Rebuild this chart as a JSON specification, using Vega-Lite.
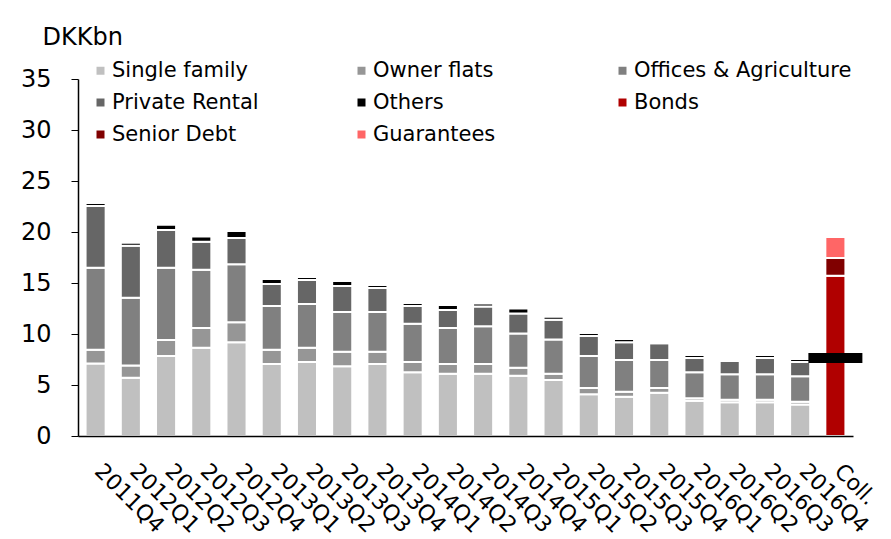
{
  "$schema": "https://vega.github.io/schema/vega-lite/v6.json",
  "width": 775,
  "height": 357,
  "autosize": {"type": "none"},
  "padding": {"left": 78, "top": 79, "right": 38, "bottom": 103},
  "background": "white",
  "config": {
    "font": "DejaVu Sans",
    "view": {"stroke": null},
    "axis": {"labelColor": "black", "titleColor": "black", "domainColor": "black", "tickColor": "black", "grid": false}
  },
  "layer": [
    {
      "data": {
        "values": [
          {"quarter": "2011Q4", "category": "Single family", "value": 7.1},
          {"quarter": "2011Q4", "category": "Owner flats", "value": 1.35},
          {"quarter": "2011Q4", "category": "Offices & Agriculture", "value": 8.05},
          {"quarter": "2011Q4", "category": "Private Rental", "value": 6.05},
          {"quarter": "2011Q4", "category": "Others", "value": 0.3},
          {"quarter": "2012Q1", "category": "Single family", "value": 5.7},
          {"quarter": "2012Q1", "category": "Owner flats", "value": 1.2},
          {"quarter": "2012Q1", "category": "Offices & Agriculture", "value": 6.65},
          {"quarter": "2012Q1", "category": "Private Rental", "value": 5.1},
          {"quarter": "2012Q1", "category": "Others", "value": 0.3},
          {"quarter": "2012Q2", "category": "Single family", "value": 7.85},
          {"quarter": "2012Q2", "category": "Owner flats", "value": 1.55},
          {"quarter": "2012Q2", "category": "Offices & Agriculture", "value": 7.1},
          {"quarter": "2012Q2", "category": "Private Rental", "value": 3.7},
          {"quarter": "2012Q2", "category": "Others", "value": 0.5},
          {"quarter": "2012Q3", "category": "Single family", "value": 8.65},
          {"quarter": "2012Q3", "category": "Owner flats", "value": 1.95},
          {"quarter": "2012Q3", "category": "Offices & Agriculture", "value": 5.7},
          {"quarter": "2012Q3", "category": "Private Rental", "value": 2.75},
          {"quarter": "2012Q3", "category": "Others", "value": 0.5},
          {"quarter": "2012Q4", "category": "Single family", "value": 9.2},
          {"quarter": "2012Q4", "category": "Owner flats", "value": 1.95},
          {"quarter": "2012Q4", "category": "Offices & Agriculture", "value": 5.7},
          {"quarter": "2012Q4", "category": "Private Rental", "value": 2.55},
          {"quarter": "2012Q4", "category": "Others", "value": 0.7},
          {"quarter": "2013Q1", "category": "Single family", "value": 7.05},
          {"quarter": "2013Q1", "category": "Owner flats", "value": 1.4},
          {"quarter": "2013Q1", "category": "Offices & Agriculture", "value": 4.3},
          {"quarter": "2013Q1", "category": "Private Rental", "value": 2.15},
          {"quarter": "2013Q1", "category": "Others", "value": 0.5},
          {"quarter": "2013Q2", "category": "Single family", "value": 7.25},
          {"quarter": "2013Q2", "category": "Owner flats", "value": 1.4},
          {"quarter": "2013Q2", "category": "Offices & Agriculture", "value": 4.3},
          {"quarter": "2013Q2", "category": "Private Rental", "value": 2.35},
          {"quarter": "2013Q2", "category": "Others", "value": 0.3},
          {"quarter": "2013Q3", "category": "Single family", "value": 6.85},
          {"quarter": "2013Q3", "category": "Owner flats", "value": 1.4},
          {"quarter": "2013Q3", "category": "Offices & Agriculture", "value": 3.9},
          {"quarter": "2013Q3", "category": "Private Rental", "value": 2.55},
          {"quarter": "2013Q3", "category": "Others", "value": 0.5},
          {"quarter": "2013Q4", "category": "Single family", "value": 7.05},
          {"quarter": "2013Q4", "category": "Owner flats", "value": 1.2},
          {"quarter": "2013Q4", "category": "Offices & Agriculture", "value": 3.9},
          {"quarter": "2013Q4", "category": "Private Rental", "value": 2.35},
          {"quarter": "2013Q4", "category": "Others", "value": 0.3},
          {"quarter": "2014Q1", "category": "Single family", "value": 6.25},
          {"quarter": "2014Q1", "category": "Owner flats", "value": 1.0},
          {"quarter": "2014Q1", "category": "Offices & Agriculture", "value": 3.75},
          {"quarter": "2014Q1", "category": "Private Rental", "value": 1.75},
          {"quarter": "2014Q1", "category": "Others", "value": 0.3},
          {"quarter": "2014Q2", "category": "Single family", "value": 6.1},
          {"quarter": "2014Q2", "category": "Owner flats", "value": 0.95},
          {"quarter": "2014Q2", "category": "Offices & Agriculture", "value": 3.55},
          {"quarter": "2014Q2", "category": "Private Rental", "value": 1.75},
          {"quarter": "2014Q2", "category": "Others", "value": 0.5},
          {"quarter": "2014Q3", "category": "Single family", "value": 6.1},
          {"quarter": "2014Q3", "category": "Owner flats", "value": 0.95},
          {"quarter": "2014Q3", "category": "Offices & Agriculture", "value": 3.7},
          {"quarter": "2014Q3", "category": "Private Rental", "value": 1.95},
          {"quarter": "2014Q3", "category": "Others", "value": 0.3},
          {"quarter": "2014Q4", "category": "Single family", "value": 5.9},
          {"quarter": "2014Q4", "category": "Owner flats", "value": 0.8},
          {"quarter": "2014Q4", "category": "Offices & Agriculture", "value": 3.35},
          {"quarter": "2014Q4", "category": "Private Rental", "value": 1.95},
          {"quarter": "2014Q4", "category": "Others", "value": 0.5},
          {"quarter": "2015Q1", "category": "Single family", "value": 5.5},
          {"quarter": "2015Q1", "category": "Owner flats", "value": 0.6},
          {"quarter": "2015Q1", "category": "Offices & Agriculture", "value": 3.35},
          {"quarter": "2015Q1", "category": "Private Rental", "value": 1.95},
          {"quarter": "2015Q1", "category": "Others", "value": 0.3},
          {"quarter": "2015Q2", "category": "Single family", "value": 4.1},
          {"quarter": "2015Q2", "category": "Owner flats", "value": 0.6},
          {"quarter": "2015Q2", "category": "Offices & Agriculture", "value": 3.15},
          {"quarter": "2015Q2", "category": "Private Rental", "value": 1.95},
          {"quarter": "2015Q2", "category": "Others", "value": 0.3},
          {"quarter": "2015Q3", "category": "Single family", "value": 3.85},
          {"quarter": "2015Q3", "category": "Owner flats", "value": 0.5},
          {"quarter": "2015Q3", "category": "Offices & Agriculture", "value": 3.1},
          {"quarter": "2015Q3", "category": "Private Rental", "value": 1.75},
          {"quarter": "2015Q3", "category": "Others", "value": 0.3},
          {"quarter": "2015Q4", "category": "Single family", "value": 4.25},
          {"quarter": "2015Q4", "category": "Owner flats", "value": 0.45},
          {"quarter": "2015Q4", "category": "Offices & Agriculture", "value": 2.75},
          {"quarter": "2015Q4", "category": "Private Rental", "value": 1.65},
          {"quarter": "2015Q4", "category": "Others", "value": 0},
          {"quarter": "2016Q1", "category": "Single family", "value": 3.45},
          {"quarter": "2016Q1", "category": "Owner flats", "value": 0.25},
          {"quarter": "2016Q1", "category": "Offices & Agriculture", "value": 2.55},
          {"quarter": "2016Q1", "category": "Private Rental", "value": 1.4},
          {"quarter": "2016Q1", "category": "Others", "value": 0.3},
          {"quarter": "2016Q2", "category": "Single family", "value": 3.3},
          {"quarter": "2016Q2", "category": "Owner flats", "value": 0.25},
          {"quarter": "2016Q2", "category": "Offices & Agriculture", "value": 2.5},
          {"quarter": "2016Q2", "category": "Private Rental", "value": 1.3},
          {"quarter": "2016Q2", "category": "Others", "value": 0},
          {"quarter": "2016Q3", "category": "Single family", "value": 3.3},
          {"quarter": "2016Q3", "category": "Owner flats", "value": 0.25},
          {"quarter": "2016Q3", "category": "Offices & Agriculture", "value": 2.5},
          {"quarter": "2016Q3", "category": "Private Rental", "value": 1.6},
          {"quarter": "2016Q3", "category": "Others", "value": 0.3},
          {"quarter": "2016Q4", "category": "Single family", "value": 3.1},
          {"quarter": "2016Q4", "category": "Owner flats", "value": 0.25},
          {"quarter": "2016Q4", "category": "Offices & Agriculture", "value": 2.5},
          {"quarter": "2016Q4", "category": "Private Rental", "value": 1.4},
          {"quarter": "2016Q4", "category": "Others", "value": 0.3},
          {"quarter": "Coll.", "category": "Bonds", "value": 15.7},
          {"quarter": "Coll.", "category": "Senior Debt", "value": 1.75},
          {"quarter": "Coll.", "category": "Guarantees", "value": 2.05}
        ]
      },
      "transform": [
        {"calculate": "indexof(['Single family', 'Owner flats', 'Offices & Agriculture', 'Private Rental', 'Others', 'Bonds', 'Senior Debt', 'Guarantees'], datum.category)", "as": "stackOrder"}
      ],
      "mark": {"type": "bar", "stroke": "white", "strokeWidth": 2},
      "encoding": {
        "x": {
          "field": "quarter", "type": "nominal", "sort": null,
          "scale": {"paddingInner": 0.43, "paddingOuter": 0.215},
          "axis": {
            "title": null, "labelAngle": 45, "labelAlign": "left", "labelBaseline": "top",
            "labelPadding": 24, "labelOffset": 10, "ticks": false, "domainWidth": 1.5, "labelFontSize": 22,
            "zindex": 1
          }
        },
        "y": {
          "field": "value", "type": "quantitative", "stack": "zero",
          "scale": {"domain": [0, 35], "nice": false},
          "axis": {
            "values": [0, 5, 10, 15, 20, 25, 30, 35],
            "title": "DKKbn", "titleAngle": 0, "titleX": -36, "titleY": -35,
            "titleAlign": "left", "titleBaseline": "alphabetic", "titleFontSize": 24,
            "titleFontWeight": "normal", "labelFontSize": 24, "labelPadding": 20,
            "tickSize": 7, "domainWidth": 1.5, "zindex": 1
          }
        },
        "order": {"field": "stackOrder", "type": "quantitative", "sort": "ascending"},
        "color": {
          "field": "category", "type": "nominal",
          "scale": {
            "domain": ["Single family", "Owner flats", "Offices & Agriculture", "Private Rental", "Others", "Bonds", "Senior Debt", "Guarantees"],
            "range": ["#C0C0C0", "#969696", "#808080", "#666666", "#000000", "#B00000", "#800000", "#FF6666"]
          },
          "legend": {
            "title": null, "orient": "none", "direction": "horizontal", "legendX": 12, "legendY": -19, "columns": 3,
            "gridAlign": "all", "columnPadding": 21, "rowPadding": 10, "padding": 0,
            "symbolType": "square", "symbolSize": 64, "symbolStrokeWidth": 0,
            "labelFontSize": 21, "labelOffset": 1, "labelColor": "black", "labelLimit": 400
          }
        }
      }
    },
    {
      "data": {"values": [{"quarter": "Coll.", "value": 7.65}]},
      "mark": {"type": "tick", "color": "black", "thickness": 10, "size": 54, "opacity": 1},
      "encoding": {
        "x": {"field": "quarter", "type": "nominal", "sort": null},
        "y": {"field": "value", "type": "quantitative"}
      }
    }
  ]
}
